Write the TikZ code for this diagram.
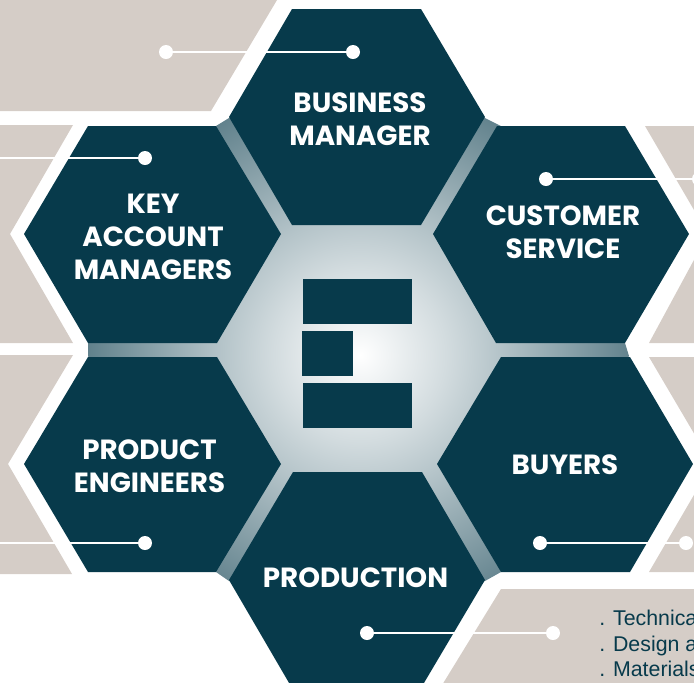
\documentclass[tikz,border=0pt]{standalone}
\usepackage{fontspec}
\setmainfont{Poppins}
\setsansfont{Liberation Sans}
\definecolor{hexteal}{HTML}{073A4B}
\definecolor{sand}{HTML}{D5CDC7}
\pgfdeclareradialshading{hubglow}{\pgfpointorigin}{color(0bp)=(white); color(7.5bp)=(white!82!hexteal); color(12bp)=(white!70!hexteal); color(23.5bp)=(white!36!hexteal); color(25bp)=(white!34!hexteal); color(50bp)=(white!34!hexteal)}
\tikzset{
  hexcell/.style={fill=hexteal},
  backing/.style={fill=sand},
  dot/.style={circle,fill=white,minimum size=10.5pt,inner sep=0pt},
  wire/.style={draw=white,line width=2.2pt},
  hexlabel/.style={text=white,font=\fontsize{20.8pt}{24.8pt}\selectfont\bfseries,align=center},
  notes/.style={text=hexteal,anchor=base west,inner sep=0pt,font=\sffamily\fontsize{16pt}{18pt}\selectfont}
}

\begin{document}
\begin{tikzpicture}[x=0.75pt,y=-0.75pt]
\useasboundingbox (0,0) rectangle (694,683);
\clip (0,0) rectangle (694,683);
% sand panels behind the cells
\fill[backing] (-5,-5)--(280,-5)--(211,111)--(-5,111)--cycle;
\fill[backing] (-5,125)--(73,125)--(10,234)--(73,343)--(-5,343)--cycle;
\fill[backing] (-5,355)--(73,355)--(8,464)--(72,574)--(-5,574)--cycle;
\fill[backing] (645,126)--(720,126)--(720,343)--(649,343)--(708,234)--cycle;
\fill[backing] (649,357)--(720,357)--(720,572)--(649,572)--(712,464)--cycle;
\fill[backing] (501,589)--(720,589)--(720,690)--(439,690)--cycle;
% glow in the middle
\begin{scope}
\clip (229,118)--(485,118)--(501,126)--(625,343)--(629,356)--(501,572)--(485,581)--(229,581)--(216,572)--(88,356)--(88,343)--(216,126)--cycle;
\shade[shading=hubglow] (360,355) circle (290);
\end{scope}
% the six cells
\fill[hexcell] (292,9)--(421,9)--(485,117)--(421,225)--(292,225)--(229,117)--cycle;
\fill[hexcell] (88,126)--(216,126)--(281,234)--(217,343)--(88,343)--(24,234)--cycle;
\fill[hexcell] (497,126)--(625,126)--(689,234)--(625,343)--(496,343)--(433,234)--cycle;
\fill[hexcell] (88,357)--(217,357)--(281,464)--(216,572)--(88,572)--(24,464)--cycle;
\fill[hexcell] (501,357)--(630,357)--(693,464)--(630,572)--(501,572)--(437,464)--cycle;
\fill[hexcell] (293,472)--(422,472)--(485,580)--(421,688)--(292,688)--(229,580)--cycle;
% centre mark
\fill[hexcell] (303,279) rectangle (412,324);
\fill[hexcell] (302,331) rectangle (353,376);
\fill[hexcell] (303,383) rectangle (412,428);
% labels
\node[hexlabel] (business) at (360,119) {BUSINESS\\MANAGER};
\node[hexlabel] (account) at (153,237) {KEY\\ACCOUNT\\MANAGERS};
\node[hexlabel] (customer) at (563,232) {CUSTOMER\\SERVICE};
\node[hexlabel] (engineers) at (149.5,466) {PRODUCT\\ENGINEERS};
\node[hexlabel] (buyers) at (565,465) {BUYERS};
\node[hexlabel] (production) at (355.5,578) {PRODUCTION};
\node[notes] (note1) at (599,625) {. Technica};
\node[notes] (note2) at (599,651) {. Design a};
\node[notes] (note3) at (599,676) {. Materials};
% pins
\node[dot] (pinbusiness) at (353,52) {};
\node[dot] (panelbusiness) at (166,52) {};
\draw[wire] (pinbusiness) -- (panelbusiness);
\node[dot] (pinaccount) at (145,158) {};
\coordinate (panelaccount) at (-5,158);
\draw[wire] (pinaccount) -- (panelaccount);
\node[dot] (pincustomer) at (546,179) {};
\node[dot] (panelcustomer) at (699,179) {};
\draw[wire] (pincustomer) -- (panelcustomer);
\node[dot] (pinengineers) at (145,543) {};
\coordinate (panelengineers) at (-5,543);
\draw[wire] (pinengineers) -- (panelengineers);
\node[dot] (pinbuyers) at (540,543) {};
\node[dot] (panelbuyers) at (686,543) {};
\draw[wire] (pinbuyers) -- (panelbuyers);
\node[dot] (pinproduction) at (367,633) {};
\node[dot] (panelproduction) at (553,633) {};
\draw[wire] (pinproduction) -- (panelproduction);
\end{tikzpicture}
\end{document}
